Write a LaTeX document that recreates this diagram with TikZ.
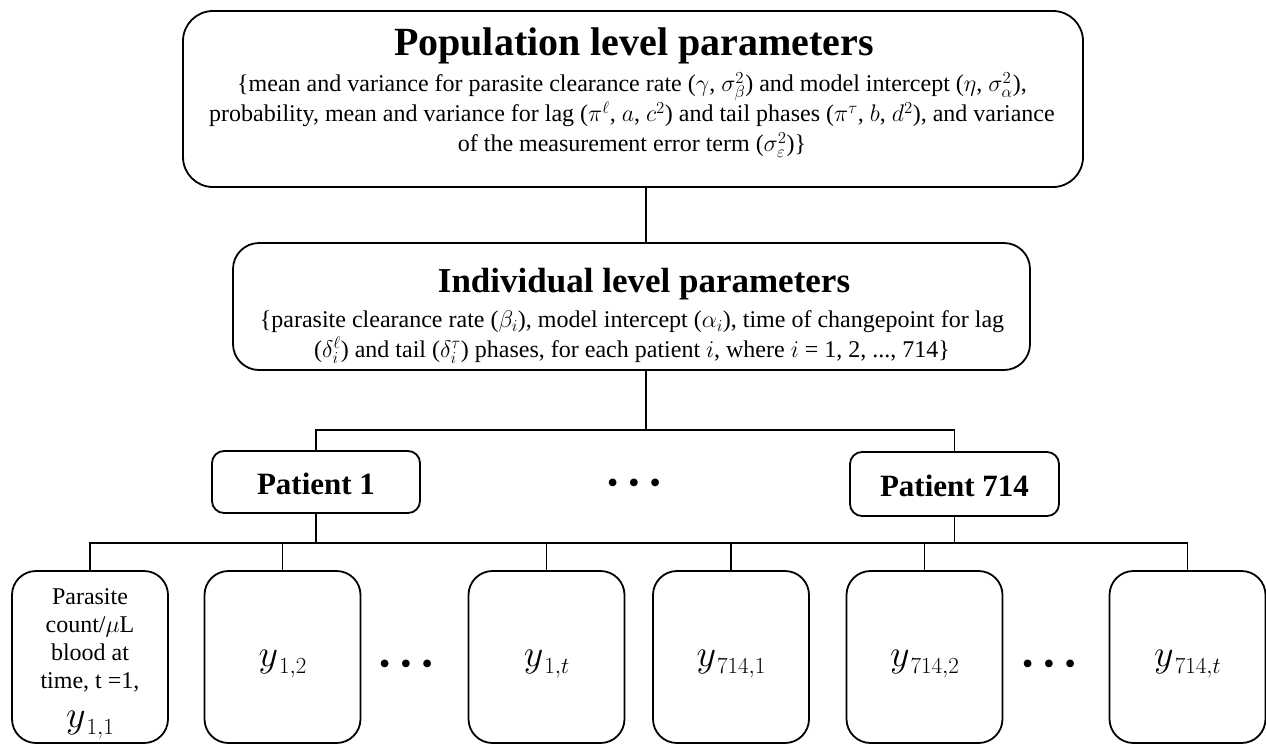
\RequirePackage{fix-cm}
\documentclass[tikz,border=0pt]{standalone}
\usepackage{fontspec}
\setmainfont{Liberation Serif}
\newcommand{\ysub}[1]{$y$\kern1pt\raisebox{-0.2em}{\fontsize{23}{23}\selectfont$#1$}}
\begin{document}
\begin{tikzpicture}[x=1pt,y=-1pt,
  box/.style={draw=black,line width=1.8pt,fill=white,inner sep=0pt},
  conn/.style={draw=black,line width=1.8pt},
  txt/.style={inner sep=0pt,align=center},
  body/.style={txt,font=\fontsize{24}{30}\selectfont},
  ybox/.style={box,rounded corners=24pt,minimum width=156pt,minimum height=172pt},
  pbox/.style={box,rounded corners=12pt},
  ptitle/.style={txt,font=\fontsize{31}{34}\selectfont\bfseries},
  ylab/.style={txt,font=\fontsize{38}{40}\selectfont},
  dots/.style={txt,font=\fontsize{32}{32}\selectfont}
]
\useasboundingbox (0,0) rectangle (1266,745);
\fill[white] (0,0) rectangle (1266,745);

% population box
\node[box,rounded corners=30pt,minimum width=900pt,minimum height=176pt] (pop) at (633,99) {};
\node[txt,font=\fontsize{40}{44}\selectfont\bfseries] (poptitle) at (634,46) {Population level parameters};
\node[body] (popbody) at (632,115) {\{mean and variance for parasite clearance rate ($\gamma$, $\sigma^2_\beta$) and model intercept ($\eta$, $\sigma^2_\alpha$),\\
probability, mean and variance for lag ($\pi^\ell$, $a$, $c^2$) and tail phases ($\pi^\tau$, $b$, $d^2$), and variance\\
of the measurement error term ($\sigma^2_\varepsilon$)\}};

% individual box
\node[box,rounded corners=26pt,minimum width=797pt,minimum height=127pt] (ind) at (631.5,306.5) {};
\node[txt,font=\fontsize{35}{38}\selectfont\bfseries] (indtitle) at (644,284) {Individual level parameters};
\node[body] (indbody) at (632,337) {\{parasite clearance rate ($\beta_i$), model intercept ($\alpha_i$), time of changepoint for lag\\
($\delta^\ell_i$) and tail ($\delta^\tau_i$) phases, for each patient $i$, where $i$ = 1, 2, ..., 714\}};

% patients
\node[pbox,minimum width=208pt,minimum height=62pt] (p1) at (316,482) {};
\node[ptitle] (p1t) at (316,484) {Patient 1};
\node[pbox,minimum width=209pt,minimum height=64pt] (p714) at (954.5,484) {};
\node[ptitle] (p714t) at (954.5,486) {Patient 714};
\node[dots] (mdots) at (634,486) {•\hspace{10pt}•\hspace{10pt}•};

% observation boxes
\node[ybox] (b1) at (90,657) {};
\node[ybox] (b2) at (282.5,657) {};
\node[ybox] (b3) at (546.5,657) {};
\node[ybox] (b4) at (731,657) {};
\node[ybox] (b5) at (924.5,657) {};
\node[ybox] (b6) at (1187.5,657) {};

\node[txt,font=\fontsize{24}{28}\selectfont] (b1t) at (90,640) {Parasite\\count/$\mu$L\\blood at\\time, t =1,};
\node[ylab] (b1y) at (90,725) {\ysub{1{,}1}};
\node[ylab] (b2y) at (282.5,664) {\ysub{1{,}2}};
\node[ylab] (b3y) at (546.5,664) {\ysub{1{,}t}};
\node[ylab] (b4y) at (731,664) {\ysub{714{,}1}};
\node[ylab] (b5y) at (924.5,664) {\ysub{714{,}2}};
\node[ylab] (b6y) at (1187.5,664) {\ysub{714{,}t}};
\node[dots] (ldots) at (406,667) {•\hspace{10pt}•\hspace{10pt}•};
\node[dots] (rdots) at (1049,667) {•\hspace{10pt}•\hspace{10pt}•};

% connectors
\coordinate (trunk) at (646,430);
\coordinate (h2l) at (0,543);
\draw[conn] (pop.south -| trunk) -- (ind.north -| trunk);
\draw[conn] (ind.south -| trunk) -- (trunk);
\draw[conn] (p1.north) |- (trunk) -| (p714.north);
\draw[conn] (p1.south) -- (p1.south |- h2l);
\draw[conn] (p714.south) -- (p714.south |- h2l);
\draw[conn] (b1.north) |- (h2l -| b2.north) -- (b2.north);
\draw[conn] (b1.north |- h2l) -- (b6.north |- h2l) -- (b6.north);
\draw[conn] (b3.north) -- (b3.north |- h2l);
\draw[conn] (b4.north) -- (b4.north |- h2l);
\draw[conn] (b5.north) -- (b5.north |- h2l);
\end{tikzpicture}
\end{document}
